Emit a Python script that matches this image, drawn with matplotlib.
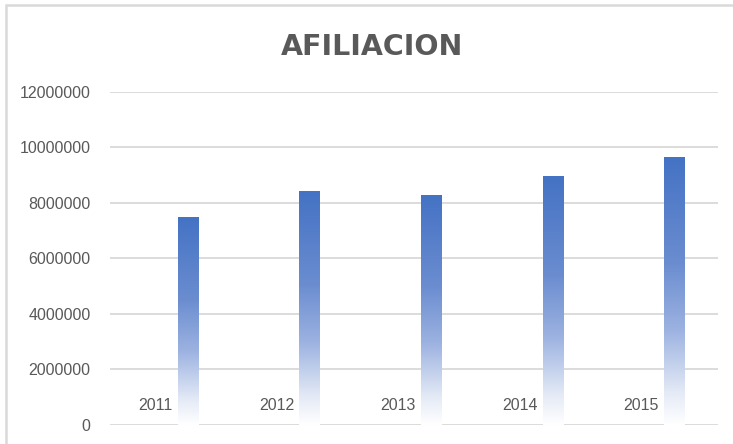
import numpy as np
import matplotlib
matplotlib.use('Agg')
import matplotlib.pyplot as plt
from matplotlib.colors import LinearSegmentedColormap
from matplotlib.patches import Rectangle

# datos
anios = ['2011', '2012', '2013', '2014', '2015']
afiliacion = [7510000, 8430000, 8290000, 8970000, 9670000]
yticks = [0, 2000000, 4000000, 6000000, 8000000, 10000000, 12000000]

fig = plt.figure(figsize=(7.33, 4.44), dpi=100)
ax = fig.add_axes([0.150, 0.0428, 0.8295, 0.75])

# marco del grafico (recortado a la derecha y abajo)
fig.patches.append(Rectangle((5.5 / 733, -0.2), 1.2, 1.2 - 5.5 / 444,
                             transform=fig.transFigure, fill=False,
                             edgecolor='#d9d9d9', lw=1.8))

cmap = LinearSegmentedColormap.from_list(
    'grad', [(0.0, '#ffffff'), (0.12, '#e4eaf6'), (0.35, '#9db3e1'),
             (0.6, '#6b8dd0'), (1.0, '#4472c4')])

x = np.arange(len(anios))
ancho = 0.165
desp = 0.14
barras = ax.bar(x + desp, afiliacion, width=ancho, color='none', zorder=3)

grad = np.linspace(0, 1, 256).reshape(-1, 1)
for b in barras:
    x0, w, h = b.get_x(), b.get_width(), b.get_height()
    im = ax.imshow(grad, cmap=cmap, origin='lower', aspect='auto',
                   extent=[x0, x0 + w, 0, h], zorder=3)
    im.set_clip_path(b)

for xi, a in zip(x, anios):
    ax.text(xi - 0.13, 720000, a, ha='center', va='center', fontsize=11.5,
            color='#595959', family='Liberation Sans', zorder=4)

ax.set_xlim(-0.5, 4.5)
ax.set_ylim(0, 12000000)
ax.set_yticks(yticks)
ax.set_yticklabels([str(v) for v in yticks], family='Liberation Sans',
                   fontsize=11.5, color='#595959')
ax.set_xticks([])
ax.tick_params(axis='y', length=0, pad=14)
ax.grid(axis='y', color='#d9d9d9', lw=1.3, zorder=0)
ax.set_axisbelow(True)
for s in ax.spines.values():
    s.set_visible(False)

fig.text(372 / 733, 1 - 47 / 444, 'AFILIACION', ha='center',
         va='center', fontsize=20.5, fontweight='bold', color='#595959')

fig.savefig('out.png', dpi=100)
